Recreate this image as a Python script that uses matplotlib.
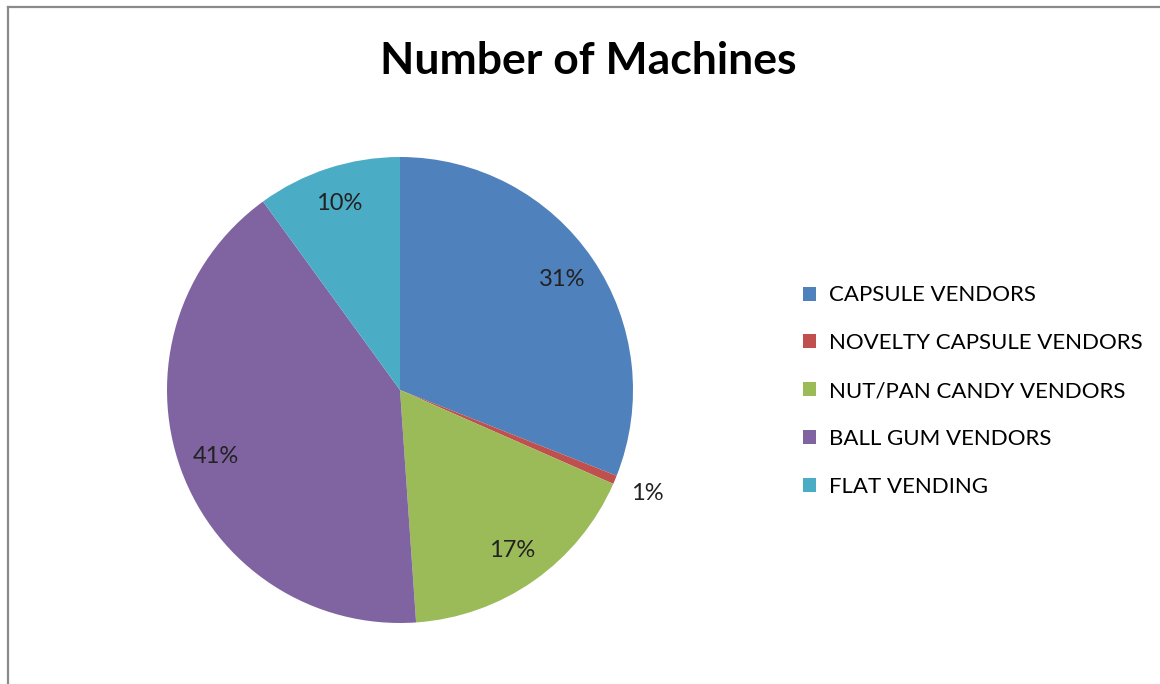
import matplotlib.pyplot as plt
import matplotlib.lines as mlines

plt.rcParams['font.family'] = ['Lato', 'DejaVu Sans']

# data
categories = ['CAPSULE VENDORS', 'NOVELTY CAPSULE VENDORS', 'NUT/PAN CANDY VENDORS',
              'BALL GUM VENDORS', 'FLAT VENDING']
shares = [31.0, 0.6, 17.3, 41.1, 10.0]
colors = ['#4F81BD', '#C0504D', '#9BBB59', '#8064A2', '#4BACC6']

W, H = 1160, 684
fig = plt.figure(figsize=(W / 100, H / 100), dpi=100)

# pie axes placed so center ~ (400, 390) px and radius ~ 233 px
cx, cy, r = 400, 390, 233
ax = fig.add_axes([(cx - r) / W, 1 - (cy + r) / H, 2 * r / W, 2 * r / H])
wedges, texts, autotexts = ax.pie(shares, colors=colors, startangle=90, counterclock=False,
                                  autopct=lambda p: '%d%%' % round(p), pctdistance=0.84,
                                  radius=1, textprops={'fontsize': 17, 'color': '#222222'})
ax.set_xlim(-1, 1)
ax.set_ylim(-1, 1)

# small slice label sits outside the pie
small = autotexts[1]
x, y = small.get_position()
d = (x ** 2 + y ** 2) ** 0.5
small.set_position((x / d * 1.15, y / d * 1.15))

fig.text(588 / W, 1 - 61 / H, 'Number of Machines', ha='center', va='center',
         fontsize=32, fontweight='bold', color='black')

fig.legend(wedges, categories, loc='center left', bbox_to_anchor=(803 / W, 1 - 391 / H),
           frameon=False, fontsize=16, handlelength=0.6, handleheight=0.6,
           handletextpad=0.55, labelspacing=1.25, borderpad=0, borderaxespad=0)

# chart frame (only top and left edges visible)
fig.add_artist(mlines.Line2D([8 / W, 1], [1 - 7 / H, 1 - 7 / H], color='#8a8a8a', lw=1.6))
fig.add_artist(mlines.Line2D([8 / W, 8 / W], [0, 1 - 7 / H], color='#8a8a8a', lw=1.6))

fig.savefig('out.png', dpi=100)
